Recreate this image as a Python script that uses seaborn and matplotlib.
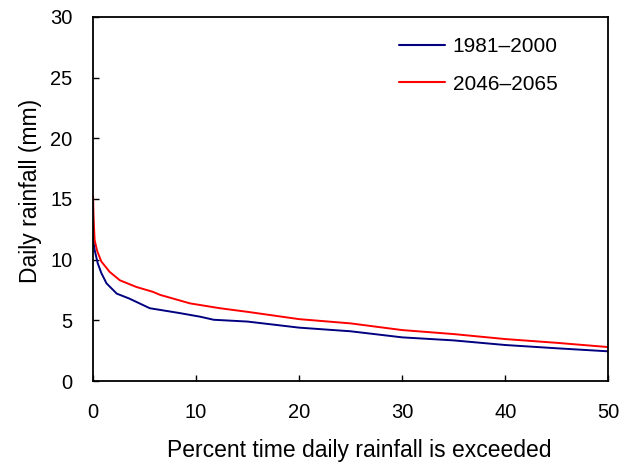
import matplotlib
matplotlib.use("Agg")
import matplotlib.pyplot as plt
import seaborn as sns
import pandas as pd

# Data
pct_1981 = [0, 0.05, 0.15, 0.45, 0.8, 1.3, 2.3, 3.5, 5.5, 8.4, 10.4, 11.7, 15, 20, 25, 30, 35, 40, 45, 50]
rain_1981 = [13.7, 11.4, 10.8, 9.7, 8.9, 8.05, 7.2, 6.8, 6.0, 5.6, 5.3, 5.05, 4.9, 4.4, 4.1, 3.6, 3.35, 2.97, 2.7, 2.45]

pct_2046 = [0, 0.05, 0.15, 0.4, 0.8, 1.6, 2.6, 4.2, 5.8, 6.5, 9.4, 12.3, 15, 20, 25, 30, 35, 40, 45, 50]
rain_2046 = [15.2, 13.3, 11.6, 10.7, 9.85, 9.0, 8.3, 7.75, 7.35, 7.1, 6.4, 6.0, 5.7, 5.1, 4.75, 4.2, 3.87, 3.46, 3.15, 2.8]

series_names = ["1981\u20132000", "2046\u20132065"]
series_colors = ["#000080", "#FF0000"]

x_ticks = [0, 10, 20, 30, 40, 50]
y_ticks = [0, 5, 10, 15, 20, 25, 30]

df = pd.concat([
    pd.DataFrame({"pct": pct_1981, "rain": rain_1981, "period": series_names[0]}),
    pd.DataFrame({"pct": pct_2046, "rain": rain_2046, "period": series_names[1]}),
])

sns.set_style("ticks")
plt.rcParams["font.family"] = ["Liberation Sans", "DejaVu Sans"]
plt.rcParams["text.color"] = "black"
plt.rcParams["axes.labelcolor"] = "black"

fig = plt.figure(figsize=(6.29, 4.67), dpi=100)
ax = fig.add_axes([0.148, 0.184, 0.819, 0.780])

sns.lineplot(data=df, x="pct", y="rain", hue="period", palette=series_colors,
             sort=False, estimator=None, linewidth=1.4, ax=ax)

ax.set_xlim(0, 50)
ax.set_ylim(0, 30)
ax.set_xticks(x_ticks)
ax.set_yticks(y_ticks)
ax.tick_params(direction="in", length=4, width=1, labelsize=14.5, colors="black")
ax.tick_params(axis="y", pad=15)
ax.tick_params(axis="x", pad=16)
for s in ax.spines.values():
    s.set_visible(True)
    s.set_linewidth(1.3)
    s.set_color("black")

ax.set_xlabel("Percent time daily rainfall is exceeded", fontsize=16.5, color="black")
ax.set_ylabel("Daily rainfall (mm)", fontsize=16.5, color="black")
ax.xaxis.set_label_coords(0.516, -0.16)
ax.yaxis.set_label_coords(-0.10, 0.522)

leg = ax.legend(loc="upper right", frameon=False, fontsize=15, handlelength=2.25,
                labelspacing=0.9, handletextpad=0.35, borderaxespad=0,
                bbox_to_anchor=(0.918, 0.968))
for line in leg.get_lines():
    line.set_linewidth(1.5)
for t in leg.get_texts():
    t.set_color("black")

fig.savefig("out.png", dpi=100)
